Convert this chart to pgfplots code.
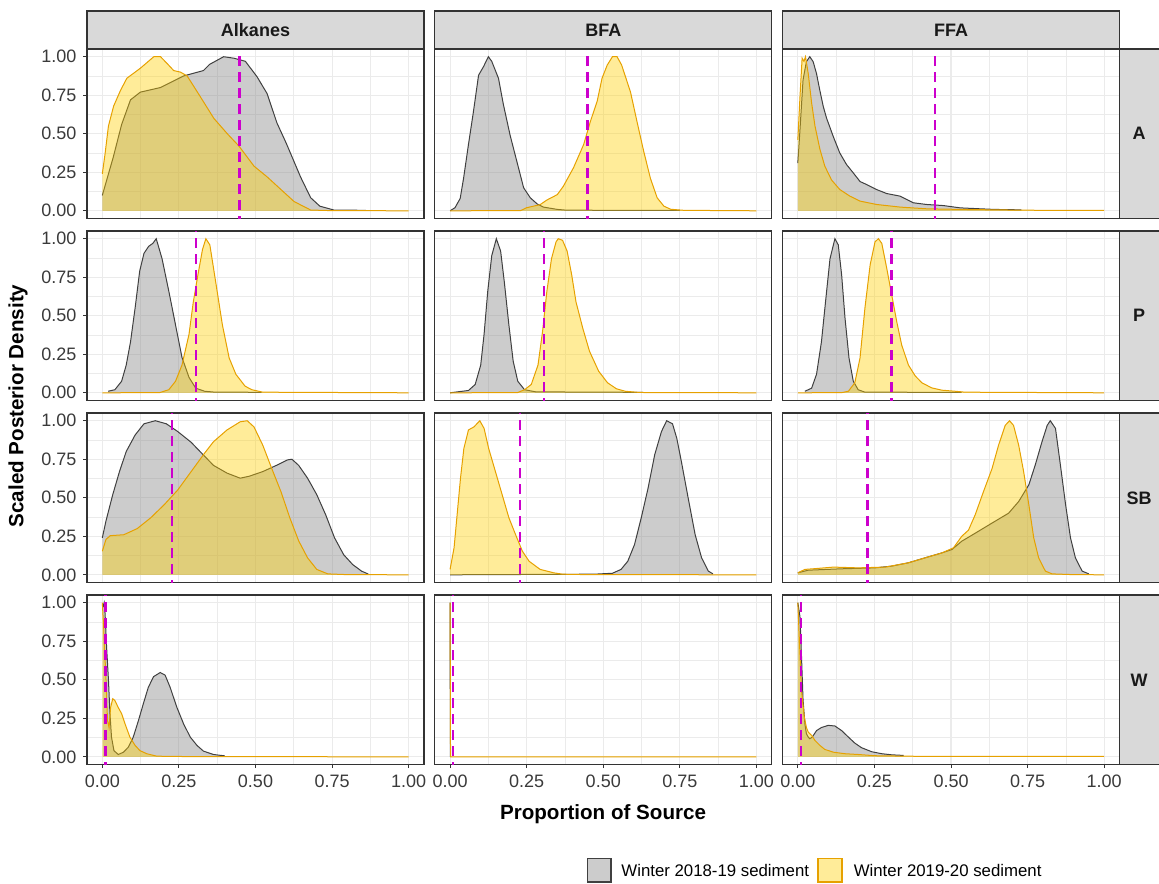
\documentclass[border=0pt]{standalone}
\usepackage{fontspec}
\setmainfont{Liberation Sans}
\usepackage{pgfplots}
\usepackage{pgfplotstable}
\pgfplotsset{compat=1.18}

\definecolor{gfillc}{HTML}{808080}
\definecolor{yfillc}{HTML}{FFD000}
\definecolor{glinec}{HTML}{404040}
\definecolor{ylinec}{HTML}{E6A100}
\definecolor{vlinec}{HTML}{CC00CC}
\definecolor{stripc}{HTML}{D9D9D9}
\definecolor{borderc}{HTML}{333333}
\definecolor{gridc}{HTML}{EBEBEB}
\definecolor{ticklab}{HTML}{3A3A3A}

% ---------------- data ----------------
\pgfplotstableread{
x y
0.000 0.10
0.036 0.35
0.063 0.56
0.092 0.72
0.124 0.77
0.190 0.80
0.265 0.875
0.330 0.91
0.350 0.95
0.396 1.00
0.430 0.99
0.467 0.97
0.505 0.87
0.538 0.76
0.570 0.57
0.600 0.44
0.647 0.22
0.680 0.085
0.710 0.03
0.756 0.005
0.860 0.003
}\AlkAg
\pgfplotstableread{
x y
0.000 0.24
0.009 0.37
0.020 0.55
0.037 0.68
0.059 0.78
0.080 0.86
0.124 0.925
0.168 1.00
0.190 1.00
0.211 0.957
0.233 0.91
0.255 0.90
0.277 0.875
0.320 0.74
0.364 0.60
0.408 0.50
0.446 0.42
0.495 0.29
0.538 0.22
0.582 0.14
0.626 0.06
0.680 0.005
0.750 0.001
1.000 0.000
}\AlkAy
\pgfplotstableread{
x y
0.000 0.000
0.016 0.02
0.033 0.08
0.044 0.21
0.060 0.43
0.076 0.64
0.093 0.88
0.109 0.935
0.125 1.00
0.136 0.97
0.158 0.86
0.174 0.69
0.196 0.49
0.218 0.32
0.240 0.15
0.262 0.084
0.284 0.045
0.305 0.024
0.350 0.009
0.380 0.004
0.750 0.002
}\BFAAg
\pgfplotstableread{
x y
0.000 0.000
0.230 0.001
0.250 0.02
0.294 0.04
0.316 0.07
0.350 0.105
0.370 0.16
0.403 0.28
0.436 0.43
0.458 0.58
0.480 0.71
0.496 0.86
0.513 0.946
0.530 1.00
0.545 1.00
0.560 0.946
0.589 0.77
0.610 0.58
0.632 0.386
0.654 0.21
0.676 0.084
0.698 0.03
0.720 0.01
0.763 0.003
1.000 0.000
}\BFAAy
\pgfplotstableread{
x y
0.000 0.31
0.007 0.526
0.017 0.85
0.028 0.968
0.039 1.00
0.050 0.968
0.061 0.89
0.072 0.78
0.083 0.677
0.094 0.60
0.116 0.48
0.137 0.375
0.159 0.30
0.181 0.246
0.203 0.19
0.225 0.17
0.257 0.138
0.290 0.112
0.334 0.095
0.377 0.052
0.420 0.041
0.475 0.034
0.530 0.019
0.595 0.013
0.640 0.009
0.730 0.006
}\FFAAg
\pgfplotstableread{
x y
0.000 0.46
0.007 0.74
0.014 0.99
0.020 0.97
0.025 1.00
0.034 0.89
0.045 0.70
0.056 0.55
0.072 0.40
0.088 0.29
0.110 0.20
0.137 0.138
0.170 0.095
0.203 0.063
0.257 0.041
0.334 0.024
0.420 0.013
0.530 0.009
0.640 0.006
0.800 0.003
1.000 0.002
}\FFAAy
\pgfplotstableread{
x y
0.019 0.01
0.041 0.02
0.063 0.075
0.078 0.18
0.092 0.33
0.107 0.55
0.122 0.79
0.136 0.905
0.151 0.95
0.165 0.97
0.176 1.00
0.195 0.87
0.217 0.66
0.239 0.44
0.260 0.23
0.283 0.10
0.305 0.03
0.334 0.01
0.363 0.005
0.520 0.003
}\AlkPg
\pgfplotstableread{
x y
0.000 0.000
0.187 0.001
0.217 0.02
0.239 0.075
0.260 0.18
0.283 0.38
0.297 0.59
0.312 0.765
0.327 0.93
0.338 1.00
0.351 0.96
0.370 0.72
0.392 0.44
0.414 0.226
0.436 0.12
0.466 0.043
0.488 0.02
0.524 0.004
1.000 0.000
}\AlkPy
\pgfplotstableread{
x y
0.000 0.000
0.060 0.015
0.082 0.054
0.100 0.18
0.111 0.38
0.123 0.66
0.136 0.89
0.151 1.00
0.165 0.92
0.177 0.72
0.192 0.44
0.206 0.205
0.221 0.075
0.243 0.02
0.280 0.006
0.630 0.003
}\BFAPg
\pgfplotstableread{
x y
0.000 0.000
0.220 0.001
0.243 0.02
0.265 0.054
0.287 0.18
0.302 0.40
0.316 0.66
0.331 0.87
0.346 0.98
0.353 1.00
0.367 0.99
0.382 0.92
0.397 0.765
0.411 0.59
0.433 0.42
0.455 0.27
0.485 0.14
0.514 0.065
0.543 0.026
0.572 0.01
0.620 0.002
1.000 0.000
}\BFAPy
\pgfplotstableread{
x y
0.023 0.01
0.045 0.03
0.061 0.12
0.077 0.33
0.094 0.66
0.105 0.87
0.121 1.00
0.132 0.96
0.143 0.765
0.154 0.485
0.167 0.226
0.181 0.075
0.197 0.02
0.219 0.004
0.535 0.003
}\FFAPg
\pgfplotstableread{
x y
0.000 0.000
0.143 0.001
0.165 0.01
0.186 0.065
0.203 0.226
0.219 0.55
0.236 0.83
0.252 0.98
0.263 1.00
0.274 0.97
0.290 0.81
0.306 0.64
0.323 0.46
0.339 0.31
0.361 0.18
0.383 0.11
0.405 0.065
0.437 0.032
0.470 0.017
0.514 0.01
0.546 0.004
1.000 0.000
}\FFAPy
\pgfplotstableread{
x y
0.000 0.24
0.012 0.35
0.034 0.52
0.056 0.67
0.078 0.80
0.107 0.907
0.136 0.98
0.173 1.00
0.209 0.98
0.246 0.93
0.290 0.86
0.319 0.80
0.363 0.71
0.407 0.66
0.450 0.627
0.480 0.64
0.524 0.67
0.568 0.71
0.605 0.746
0.619 0.75
0.641 0.71
0.670 0.627
0.700 0.52
0.729 0.39
0.758 0.24
0.788 0.13
0.817 0.067
0.846 0.024
0.868 0.005
}\AlkSBg
\pgfplotstableread{
x y
0.000 0.153
0.012 0.23
0.026 0.254
0.070 0.26
0.114 0.30
0.158 0.37
0.202 0.455
0.246 0.55
0.290 0.67
0.334 0.79
0.363 0.864
0.407 0.94
0.450 0.993
0.473 1.00
0.495 0.96
0.524 0.84
0.553 0.69
0.583 0.54
0.612 0.37
0.641 0.22
0.670 0.11
0.700 0.035
0.736 0.006
0.800 0.001
1.000 0.000
}\AlkSBy
\pgfplotstableread{
x y
0.000 0.000
0.470 0.004
0.530 0.01
0.558 0.035
0.580 0.088
0.602 0.196
0.624 0.37
0.646 0.56
0.668 0.78
0.690 0.93
0.707 1.00
0.726 0.98
0.740 0.886
0.755 0.735
0.777 0.50
0.800 0.26
0.821 0.11
0.843 0.024
0.858 0.006
}\BFASBg
\pgfplotstableread{
x y
0.000 0.035
0.013 0.175
0.023 0.39
0.034 0.627
0.045 0.82
0.060 0.94
0.078 0.96
0.097 1.00
0.111 0.95
0.126 0.82
0.148 0.67
0.170 0.52
0.192 0.37
0.214 0.26
0.236 0.153
0.258 0.088
0.294 0.035
0.338 0.013
0.367 0.004
0.450 0.001
1.000 0.000
}\BFASBy
\pgfplotstableread{
x y
0.000 0.013
0.034 0.03
0.143 0.039
0.252 0.045
0.306 0.056
0.361 0.078
0.415 0.11
0.470 0.142
0.503 0.164
0.535 0.218
0.579 0.27
0.634 0.336
0.688 0.40
0.721 0.476
0.754 0.584
0.775 0.713
0.797 0.864
0.814 0.97
0.824 1.00
0.841 0.95
0.857 0.713
0.874 0.455
0.890 0.24
0.906 0.11
0.928 0.024
0.950 0.006
}\FFASBg
\pgfplotstableread{
x y
0.000 0.013
0.023 0.035
0.056 0.04
0.116 0.05
0.197 0.045
0.285 0.05
0.361 0.078
0.415 0.11
0.470 0.142
0.508 0.175
0.535 0.25
0.557 0.29
0.579 0.39
0.606 0.54
0.634 0.69
0.655 0.84
0.677 0.97
0.691 1.00
0.704 0.97
0.721 0.84
0.737 0.67
0.754 0.455
0.770 0.24
0.786 0.11
0.808 0.024
0.830 0.006
0.900 0.001
1.000 0.000
}\FFASBy
\pgfplotstableread{
x y
0.002 0.97
0.006 1.00
0.009 0.93
0.014 0.71
0.020 0.50
0.025 0.28
0.030 0.128
0.038 0.04
0.052 0.015
0.069 0.03
0.085 0.063
0.101 0.128
0.118 0.236
0.134 0.345
0.150 0.45
0.167 0.52
0.189 0.547
0.205 0.53
0.221 0.453
0.243 0.323
0.265 0.215
0.287 0.128
0.309 0.074
0.330 0.037
0.363 0.015
0.400 0.006
}\AlkWg
\pgfplotstableread{
x y
0.000 1.00
0.005 0.82
0.012 0.50
0.017 0.236
0.022 0.19
0.027 0.32
0.034 0.377
0.041 0.366
0.052 0.32
0.063 0.28
0.074 0.215
0.090 0.128
0.107 0.074
0.123 0.04
0.145 0.02
0.178 0.004
0.300 0.001
1.000 0.000
}\AlkWy
\pgfplotstableread{
x y
0.000 1.00
0.001 0.000
}\BFAWg
\pgfplotstableread{
x y
0.000 1.00
0.0015 0.000
1.000 0.000
}\BFAWy
\pgfplotstableread{
x y
0.000 1.00
0.007 0.91
0.012 0.65
0.017 0.37
0.023 0.215
0.028 0.15
0.034 0.128
0.039 0.117
0.047 0.128
0.061 0.17
0.077 0.19
0.099 0.204
0.121 0.20
0.143 0.17
0.165 0.128
0.186 0.089
0.208 0.059
0.241 0.033
0.274 0.02
0.306 0.013
0.345 0.009
}\FFAWg
\pgfplotstableread{
x y
0.000 1.00
0.005 0.76
0.012 0.43
0.021 0.26
0.028 0.19
0.034 0.16
0.039 0.15
0.045 0.139
0.056 0.106
0.072 0.074
0.088 0.048
0.116 0.03
0.154 0.02
0.197 0.015
0.252 0.007
0.400 0.003
1.000 0.002
}\FFAWy

% ---------------- styles ----------------
\pgfplotsset{
  panel/.style={
    scale only axis, width=168.5pt, height=84.75pt, anchor=north west,
    xmin=-0.05, xmax=1.05, ymin=-0.05, ymax=1.05,
    xtick={0,0.25,0.5,0.75,1}, ytick={0,0.25,0.5,0.75,1},
    minor xtick={0.125,0.375,0.625,0.875}, minor ytick={0.125,0.375,0.625,0.875},
    xticklabels={}, yticklabels={},
    grid=both,
    major grid style={draw=gridc, line width=0.55pt},
    minor grid style={draw=gridc, line width=0.3pt},
    tick align=outside, xtick pos=left, ytick pos=left,
    major tick length=1.75pt, minor tick length=0pt,
    tick style={draw=borderc, line width=0.5pt},
    axis line style={draw=borderc, line width=0.7pt},
    tick label style={font=\fontsize{9}{10}\selectfont, text=ticklab},
    no markers,
  },
  leftcol/.style={yticklabels={0.00,0.25,0.50,0.75,1.00}},
  notleft/.style={ymajorticks=false, yminorticks=false},
  bottomrow/.style={xticklabels={0.00,0.25,0.50,0.75,1.00}},
  notbottom/.style={xmajorticks=false, xminorticks=false},
  gfill/.style={draw=none, fill=gfillc, fill opacity=0.4},
  gline/.style={draw=glinec, line width=0.5pt},
  yfill/.style={draw=none, fill=yfillc, fill opacity=0.4},
  yline/.style={draw=ylinec, line width=0.5pt},
  vline/.style={draw=vlinec, line width=1.3pt, dash pattern=on 5.25pt off 2.75pt},
}

\newcommand{\panel}[6]{%
\begin{axis}[panel, at={(#1,#2)}, #3]
\addplot[gfill] table[x=x,y=y]{#4} \closedcycle;
\addplot[gline] table[x=x,y=y]{#4};
\addplot[yfill] table[x=x,y=y]{#5} \closedcycle;
\addplot[yline] table[x=x,y=y]{#5};
\addplot[vline] coordinates {(#6,-0.1) (#6,1.1)};
\end{axis}}

\begin{document}
\begin{tikzpicture}
\useasboundingbox (0pt,0pt) rectangle (579.5pt,-441.5pt);

% Row A
\panel{43.5pt}{-24.5pt}{leftcol,notbottom}{\AlkAg}{\AlkAy}{0.448}
\panel{217.375pt}{-24.5pt}{notleft,notbottom}{\BFAAg}{\BFAAy}{0.448}
\panel{391.25pt}{-24.5pt}{notleft,notbottom}{\FFAAg}{\FFAAy}{0.448}
% Row P
\panel{43.5pt}{-115.5pt}{leftcol,notbottom}{\AlkPg}{\AlkPy}{0.306}
\panel{217.375pt}{-115.5pt}{notleft,notbottom}{\BFAPg}{\BFAPy}{0.306}
\panel{391.25pt}{-115.5pt}{notleft,notbottom}{\FFAPg}{\FFAPy}{0.306}
% Row SB
\panel{43.5pt}{-206.5pt}{leftcol,notbottom}{\AlkSBg}{\AlkSBy}{0.228}
\panel{217.375pt}{-206.5pt}{notleft,notbottom}{\BFASBg}{\BFASBy}{0.228}
\panel{391.25pt}{-206.5pt}{notleft,notbottom}{\FFASBg}{\FFASBy}{0.228}
% Row W
\panel{43.5pt}{-297.5pt}{leftcol,bottomrow}{\AlkWg}{\AlkWy}{0.010}
\panel{217.375pt}{-297.5pt}{notleft,bottomrow}{\BFAWg}{\BFAWy}{0.010}
\panel{391.25pt}{-297.5pt}{notleft,bottomrow}{\FFAWg}{\FFAWy}{0.010}

% top strips
\foreach \cx/\lab in {43.5/Alkanes, 217.375/BFA, 391.25/FFA}{
  \filldraw[fill=stripc, draw=borderc, line width=0.7pt] (\cx pt,-5.5pt) rectangle ++(168.5pt,-19pt);
  \node[font=\bfseries\fontsize{9}{10}\selectfont, text=black!90] at (\cx pt+84.25pt,-15pt) {\lab};
}
% right strips
\foreach \ry/\lab in {24.5/A, 115.5/P, 206.5/SB, 297.5/W}{
  \filldraw[fill=stripc, draw=borderc, line width=0.7pt] (559.75pt,-\ry pt) rectangle (585pt,-\ry pt-84.75pt);
  \node[font=\bfseries\fontsize{9}{10}\selectfont, text=black!90] at (569.5pt,-\ry pt-42.4pt) {\lab};
}

% axis titles
\node[font=\bfseries\fontsize{10.3}{12}\selectfont] at (301.5pt,-407pt) {Proportion of Source};
\node[font=\bfseries\fontsize{10.3}{12}\selectfont, rotate=90] at (9pt,-203pt) {Scaled Posterior Density};

% legend
\filldraw[fill=gfillc, fill opacity=0.4, draw=glinec, draw opacity=1, line width=0.6pt] (293.8pt,-429.2pt) rectangle (305.5pt,-441pt);
\node[anchor=west, inner sep=0pt, font=\fontsize{8.4}{10}\selectfont] at (310.5pt,-435.4pt) {Winter 2018-19 sediment};
\filldraw[fill=yfillc, fill opacity=0.4, draw=ylinec, draw opacity=1, line width=0.6pt] (409pt,-429.2pt) rectangle (421pt,-441pt);
\node[anchor=west, inner sep=0pt, font=\fontsize{8.4}{10}\selectfont] at (426.7pt,-435.4pt) {Winter 2019-20 sediment};
\end{tikzpicture}
\end{document}
